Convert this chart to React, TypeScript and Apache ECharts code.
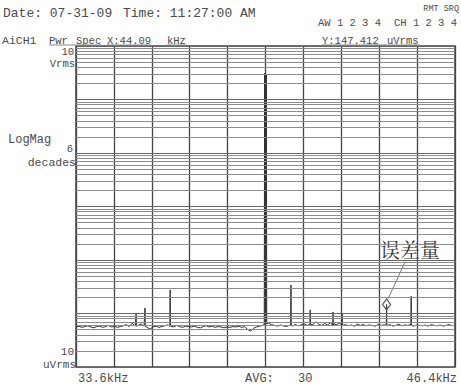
import React, { useEffect, useRef } from "react";
import * as echarts from "echarts";

// ---- axis ranges ----
const X_MIN_KHZ = 33.6;
const X_MAX_KHZ = 46.4;
const Y_MIN_UV = 10;
const Y_MAX_UV = 1e7;
const X_DIVISIONS = 10;

// ---- noise floor (uVrms), sampled every 0.1 kHz from 33.6 kHz ----
const FLOOR_START_KHZ = 33.6;
const FLOOR_STEP_KHZ = 0.1;
const floorUv = [
  56, 58, 55, 57, 59, 56, 54, 57, 58, 55, 57, 60, 56,
  58, 55, 57, 59, 62, 57, 66, 58, 60, 64, 58, 55, 51,
  56, 58, 55, 57, 59, 61, 58, 56, 60, 57, 55, 58, 57,
  56, 58, 55, 54, 57, 59, 56, 58, 55, 57, 56, 54, 56,
  55, 57, 56, 58, 55, 57, 50, 47, 53, 56, 58, 60, 62,
  66, 62, 60, 58, 61, 59, 57, 60, 58, 62, 59, 61, 64,
  60, 66, 62, 70, 63, 60, 65, 61, 68, 64, 62, 66, 60,
  62, 59, 61, 58, 63, 60, 62, 59, 61, 60, 58, 62, 60,
  61, 59, 62, 58, 60, 63, 59, 61, 60, 62, 58, 61, 60,
  59, 61, 58, 62, 60, 59, 61, 58, 60, 62, 59, 61,
];

// ---- spectral peaks ----
const peakKhz = [35.63, 35.93, 36.78, 39.97, 40.03, 40.86, 41.51, 42.28, 42.59, 44.09, 44.92];
const peakUv = [100, 127, 276, 3100000, 2900000, 340, 117, 107, 98, 147.412, 211];
const peakBaseUv = [58, 57, 58, 62, 64, 60, 62, 60, 61, 60, 60];
const PEAK_HALF_WIDTH_KHZ = 0.012;

// marker
const markerKhz = 44.09;
const markerUv = 147.412;

// log grid
const decadesUv = [10, 100, 1000, 10000, 100000, 1000000, 10000000];
const minorMultipliers = [2, 3, 4, 5, 6, 7, 8, 9];

const MONO = '"Liberation Mono", "DejaVu Sans Mono", monospace';
const TXT = "#4a4a4a";

function buildTrace(): [number, number][] {
  const pts: [number, number][] = floorUv.map((v, i) => [
    +(FLOOR_START_KHZ + i * FLOOR_STEP_KHZ).toFixed(3),
    v,
  ]);
  peakKhz.forEach((f, i) => {
    pts.push([f - PEAK_HALF_WIDTH_KHZ, peakBaseUv[i]]);
    pts.push([f, peakUv[i]]);
    pts.push([f + PEAK_HALF_WIDTH_KHZ, peakBaseUv[i]]);
  });
  pts.sort((a, b) => a[0] - b[0]);
  return pts;
}

function txt(text: string, x: number, y: number, size: number, align = "left", family = MONO, fill = TXT) {
  return {
    type: "text",
    x,
    y,
    silent: true,
    style: {
      text,
      font: `${size}px ${family}`,
      fill,
      textAlign: align,
      textVerticalAlign: "middle",
    },
  };
}

function uline(x1: number, x2: number, y: number) {
  return {
    type: "line",
    silent: true,
    shape: { x1, y1: y, x2, y2: y },
    style: { stroke: "#888", lineWidth: 1 },
  };
}

export default function App() {
  const ref = useRef<HTMLDivElement>(null);

  useEffect(() => {
    if (!ref.current) return;
    const chart = echarts.init(ref.current, undefined, { renderer: "svg" });

    const gridLines: any[] = [];
    decadesUv.forEach((d) => {
      gridLines.push({ yAxis: d, lineStyle: { color: "#666", width: 1.2, type: "solid" } });
      if (d < Y_MAX_UV) {
        minorMultipliers.forEach((m) => {
          gridLines.push({ yAxis: d * m, lineStyle: { color: "#8c8c8c", width: 1, type: "solid" } });
        });
      }
    });

    chart.setOption({
      animation: false,
      backgroundColor: "#ffffff",
      grid: {
        left: 76,
        right: 6,
        top: 46,
        bottom: 21,
        show: true,
        borderColor: "#444",
        borderWidth: 1.5,
        backgroundColor: "transparent",
      },
      xAxis: [
        {
          type: "value",
          min: X_MIN_KHZ,
          max: X_MAX_KHZ,
          axisLine: { show: false },
          axisTick: { show: false },
          axisLabel: { show: false },
          splitLine: { show: false },
        },
        {
          type: "value",
          min: 0,
          max: X_DIVISIONS,
          interval: 1,
          axisLine: { show: false },
          axisTick: { show: false },
          axisLabel: { show: false },
          splitLine: { show: true, lineStyle: { color: "#444", width: 1.3 } },
        },
      ],
      yAxis: {
        type: "log",
        logBase: 10,
        min: Y_MIN_UV,
        max: Y_MAX_UV,
        axisLine: { show: false },
        axisTick: { show: false },
        axisLabel: { show: false },
        splitLine: { show: false },
      },
      series: [
        {
          type: "line",
          xAxisIndex: 0,
          data: [],
          silent: true,
          z: 1,
          markLine: {
            silent: true,
            symbol: ["none", "none"],
            label: { show: false },
            data: gridLines,
          },
        },
        {
          type: "line",
          xAxisIndex: 0,
          data: buildTrace(),
          showSymbol: false,
          symbol: "none",
          silent: true,
          z: 3,
          lineStyle: { color: "#2e2e2e", width: 1 },
          markPoint: {
            silent: true,
            symbol: "diamond",
            symbolSize: [8, 11],
            label: { show: false },
            itemStyle: { color: "rgba(255,255,255,0)", borderColor: "#555", borderWidth: 1.2 },
            data: [{ coord: [markerKhz, markerUv] }],
          },
        },
      ],
      graphic: [
        txt("Date: 07-31-09", 3, 13, 13),
        txt("Time: 11:27:00 AM", 123, 13, 13),
        txt("RMT SRQ", 459, 9, 8.5, "right"),
        txt("AW 1 2 3 4", 318, 23, 10.5),
        txt("CH 1 2 3 4", 457, 23, 10.5, "right"),
        txt("AiCH1", 2, 40.5, 11.5),
        txt("Pwr", 49, 40.5, 10.5),
        txt("Spec", 76, 40.5, 10.5),
        txt("X:44.09", 107, 40.5, 10.5),
        txt("kHz", 167, 40.5, 10.5),
        txt("Y:147.412", 322, 40.5, 10.5),
        txt("uVrms", 387, 40.5, 10.5),
        uline(49, 101, 45),
        uline(107, 151, 45),
        uline(167, 186, 45),
        uline(322, 420, 45),
        txt("10", 74, 52, 10.5, "right"),
        txt("Vrms", 75, 63.5, 10.5, "right"),
        txt("LogMag", 8, 140, 12),
        txt("6", 73, 149, 10.5, "right"),
        txt("decades", 76, 162, 11.5, "right"),
        txt("10", 74, 352, 11, "right"),
        txt("uVrms", 76, 365, 11, "right"),
        txt("33.6kHz", 78, 379, 12),
        txt("AVG:", 245, 379, 12),
        txt("30", 298, 379, 12),
        txt("46.4kHz", 457, 379, 12, "right"),
        txt("误差量", 380, 249, 20, "left", '"Noto Serif CJK SC", "Noto Sans CJK SC", serif', "#333"),
        {
          type: "line",
          silent: true,
          shape: { x1: 405, y1: 262, x2: 388, y2: 299 },
          style: { stroke: "#777", lineWidth: 1 },
        },
      ],
    });

    return () => chart.dispose();
  }, []);

  return (
    <div
      ref={ref}
      style={{ position: "fixed", left: 0, top: 0, width: 461, height: 388, background: "#fff" }}
    />
  );
}
